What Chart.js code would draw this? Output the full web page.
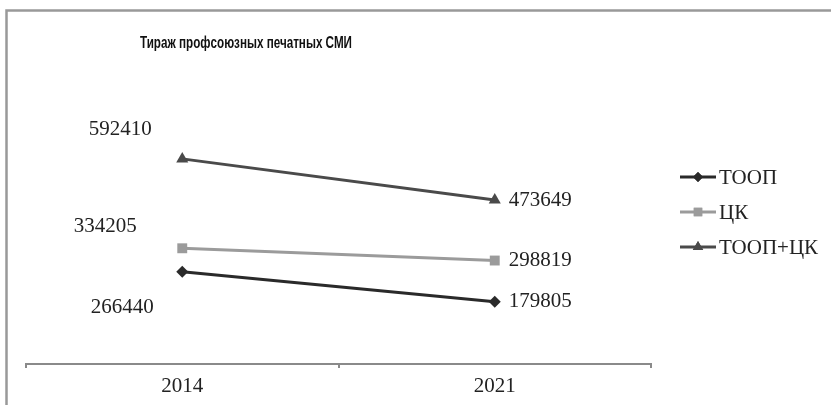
<!DOCTYPE html>
<html>
<head>
<meta charset="utf-8">
<script src="https://cdn.jsdelivr.net/npm/chart.js@4"></script>
<style>
html,body{margin:0;padding:0;background:#fff;}
#wrap{position:relative;width:831px;height:405px;}
canvas{display:block;}
</style>
</head>
<body>
<div id="wrap"><canvas id="c" width="831" height="405"></canvas></div>
<script>
const categories = ['2014', '2021'];
const seriesNames = ['ТООП', 'ЦК', 'ТООП+ЦК'];
const toop = [266440, 179805];
const ck = [334205, 298819];
const toopCk = [592410, 473649];
const chartTitle = 'Тираж профсоюзных печатных СМИ';

const serif = '"Liberation Serif", "Times New Roman", serif';
const textColor = '#222';

// label placement (style only): per dataset, per category
const labelOffsets = [
  [{dx: -60, dy: 36, align: 'center'}, {dx: 14, dy: 0, align: 'left'}],
  [{dx: -77, dy: -22, align: 'center'}, {dx: 14, dy: 0, align: 'left'}],
  [{dx: -62, dy: -29, align: 'center'}, {dx: 14, dy: 0, align: 'left'}]
];

const framePlugin = {
  id: 'frame',
  beforeDraw(chart) {
    const ctx = chart.ctx;
    ctx.save();
    ctx.fillStyle = '#fff';
    ctx.fillRect(0, 0, chart.width, chart.height);
    ctx.strokeStyle = '#999';
    ctx.lineWidth = 2.5;
    ctx.beginPath();
    ctx.moveTo(6.5, chart.height);
    ctx.lineTo(6.5, 10.5);
    ctx.lineTo(chart.width, 10.5);
    ctx.stroke();
    // title (condensed to match narrow bold face)
    ctx.fillStyle = '#111';
    ctx.font = 'bold 17px "Liberation Sans", Arial, sans-serif';
    ctx.textAlign = 'center';
    ctx.textBaseline = 'middle';
    const w = ctx.measureText(chartTitle).width;
    const target = 212;
    ctx.translate(246, 43);
    ctx.scale(target / w, 1);
    ctx.fillText(chartTitle, 0, 0);
    ctx.restore();
  }
};

const labelPlugin = {
  id: 'valueLabels',
  afterDatasetsDraw(chart) {
    const ctx = chart.ctx;
    ctx.save();
    ctx.font = '21px ' + serif;
    ctx.fillStyle = textColor;
    ctx.textBaseline = 'middle';
    chart.data.datasets.forEach((ds, di) => {
      const meta = chart.getDatasetMeta(di);
      meta.data.forEach((pt, i) => {
        const o = labelOffsets[di][i];
        ctx.textAlign = o.align;
        ctx.fillText(String(ds.data[i]), pt.x + o.dx, pt.y + o.dy);
      });
    });
    ctx.restore();
  }
};

const legendPlugin = {
  id: 'sideLegend',
  afterDraw(chart) {
    const ctx = chart.ctx;
    ctx.save();
    const x0 = 680, x1 = 716, y0 = 177, gap = 35;
    chart.data.datasets.forEach((ds, di) => {
      const y = y0 + di * gap;
      ctx.strokeStyle = ds.borderColor;
      ctx.lineWidth = 3;
      ctx.beginPath();
      ctx.moveTo(x0, y);
      ctx.lineTo(x1, y);
      ctx.stroke();
      const cx = (x0 + x1) / 2;
      ctx.fillStyle = ds.pointBackgroundColor;
      Chart.helpers.drawPoint(ctx, {pointStyle: ds.pointStyle, rotation: ds.pointRotation || 0, radius: ds.pointRadius - 1, borderWidth: 0}, cx, y);
      ctx.fill();
      ctx.fillStyle = textColor;
      ctx.font = '21px ' + serif;
      ctx.textAlign = 'left';
      ctx.textBaseline = 'middle';
      ctx.fillText(ds.label, x1 + 3, y + 1);
    });
    ctx.restore();
  }
};

const colors = ['#2a2a2a', '#9b9b9b', '#4a4a4a'];
const styles = ['rectRot', 'rect', 'triangle'];
const radii = [6, 7, 7];
const values = [toop, ck, toopCk];

new Chart(document.getElementById('c'), {
  type: 'line',
  data: {
    labels: categories,
    datasets: seriesNames.map((name, i) => ({
      label: name,
      data: values[i],
      borderColor: colors[i],
      backgroundColor: colors[i],
      pointBackgroundColor: colors[i],
      pointBorderColor: colors[i],
      pointStyle: styles[i],
      pointRadius: radii[i],
      pointBorderWidth: 0,
      borderWidth: 3,
      tension: 0
    }))
  },
  options: {
    responsive: false,
    animation: false,
    devicePixelRatio: 1,
    layout: {padding: {left: 26, right: 180, top: 87, bottom: 0}},
    plugins: {
      legend: {display: false},
      title: {display: false},
      tooltip: {enabled: false}
    },
    scales: {
      x: {
        offset: true,
        grid: {offset: true, drawOnChartArea: false, drawTicks: true, tickLength: 4, color: '#8a8a8a', lineWidth: 2},
        border: {display: true, color: '#8a8a8a', width: 2},
        ticks: {color: textColor, font: {family: serif, size: 21}, padding: 6},
        afterFit(axis) { axis.height = 41; }
      },
      y: {
        display: false,
        min: 0,
        max: 800000
      }
    }
  },
  plugins: [framePlugin, labelPlugin, legendPlugin]
});
</script>
</body>
</html>
